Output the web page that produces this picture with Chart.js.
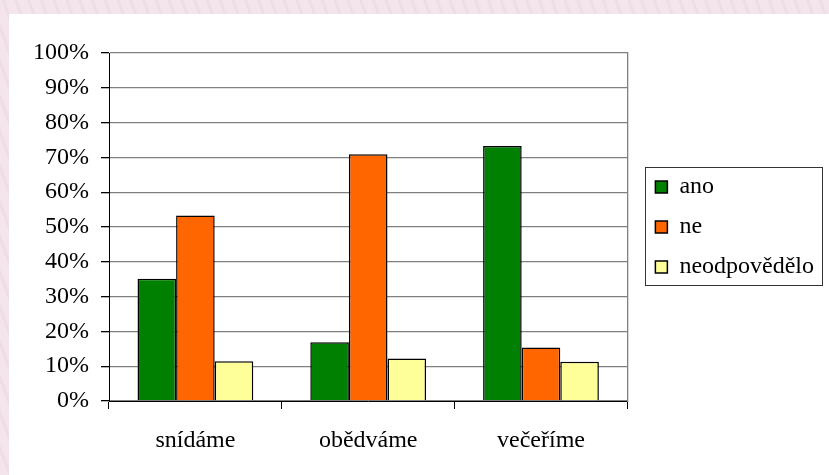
<!DOCTYPE html>
<html>
<head>
<meta charset="utf-8">
<script src="https://cdn.jsdelivr.net/npm/chart.js@4/dist/chart.umd.min.js"></script>
<style>
  html, body { margin: 0; padding: 0; }
  body {
    width: 829px; height: 475px; overflow: hidden; position: relative;
    background: repeating-linear-gradient(70deg, #f4e5ec 0px, #f4e5ec 7px, #eddbe4 9px, #f4e5ec 12px);
  }
  #panel { position: absolute; left: 9px; top: 14px; width: 820px; height: 461px; background: #ffffff; }
  #wrap { position: absolute; left: 0; top: 0; width: 829px; height: 475px; }
</style>
</head>
<body>
<div id="panel"></div>
<div id="wrap"><canvas id="c" width="829" height="475"></canvas></div>
<script>
const categories = ['snídáme', 'obědváme', 'večeříme'];
const seriesNames = ['ano', 'ne', 'neodpovědělo'];
const anoValues = [35.1, 16.9, 73.3];
const neValues = [53.3, 70.9, 15.4];
const neodpovedeloValues = [11.4, 12.2, 11.3];
const seriesColors = ['#008000', '#FF6600', '#FFFF99'];

const FONT = { family: 'Liberation Serif', size: 24 };

const legendBorder = {
  id: 'legendBorder',
  afterDraw(chart) {
    const lg = chart.legend;
    if (!lg || !lg.legendHitBoxes || !lg.legendHitBoxes.length) return;
    const hb = lg.legendHitBoxes;
    let l = Infinity, r = -Infinity;
    hb.forEach(h => { l = Math.min(l, h.left); r = Math.max(r, h.left + h.width); });
    const t = hb[0].top - 8;
    const b = hb[hb.length - 1].top + hb[hb.length - 1].height + 6;
    const ctx = chart.ctx;
    ctx.save();
    ctx.strokeStyle = '#333333';
    ctx.lineWidth = 1;
    ctx.strokeRect(Math.round(l - 10) + 0.5, Math.round(t) + 0.5, Math.round(r - l + 18), Math.round(b - t));
    ctx.restore();
  }
};

new Chart(document.getElementById('c'), {
  type: 'bar',
  data: {
    labels: categories,
    datasets: [
      { label: seriesNames[0], data: anoValues, backgroundColor: seriesColors[0] },
      { label: seriesNames[1], data: neValues, backgroundColor: seriesColors[1] },
      { label: seriesNames[2], data: neodpovedeloValues, backgroundColor: seriesColors[2] }
    ]
  },
  options: {
    responsive: false,
    animation: false,
    devicePixelRatio: 1,
    layout: { padding: { top: 53, right: 5, bottom: 0, left: 0 } },
    datasets: {
      bar: {
        borderColor: '#000000',
        borderWidth: 1.5,
        categoryPercentage: 0.67,
        barPercentage: 1.0
      }
    },
    scales: {
      x: {
        grid: { display: true, offset: true, drawOnChartArea: false, drawTicks: true, tickLength: 8, color: '#000000', tickColor: '#000000' },
        border: { display: true, color: '#000000', width: 1 },
        ticks: { color: '#000000', font: FONT, padding: 17, maxRotation: 0 },
        afterFit(s) { s.height = 74; }
      },
      y: {
        min: 0, max: 100,
        grid: { color: '#808080', lineWidth: 1.3, tickLength: 8, tickColor: '#000000' },
        border: { display: true, color: '#000000', width: 1 },
        ticks: { stepSize: 10, color: '#000000', font: FONT, padding: 12, callback: v => v + '%' },
        afterFit(s) { s.width = 109; }
      },
      y2: {
        position: 'right',
        min: 0, max: 100,
        grid: { display: false, drawTicks: false },
        border: { display: true, color: '#808080', width: 1.3 },
        ticks: { display: false },
        afterFit(s) { s.width = 12; }
      }
    },
    plugins: {
      tooltip: { enabled: false },
      legend: {
        position: 'right',
        fullSize: false,
        align: 'center',
        maxWidth: 300,
        labels: {
          color: '#000000',
          font: FONT,
          boxWidth: 12,
          boxHeight: 12,
          padding: 16,
          useBorderRadius: false
        }
      }
    }
  },
  plugins: [legendBorder]
});
</script>
</body>
</html>
